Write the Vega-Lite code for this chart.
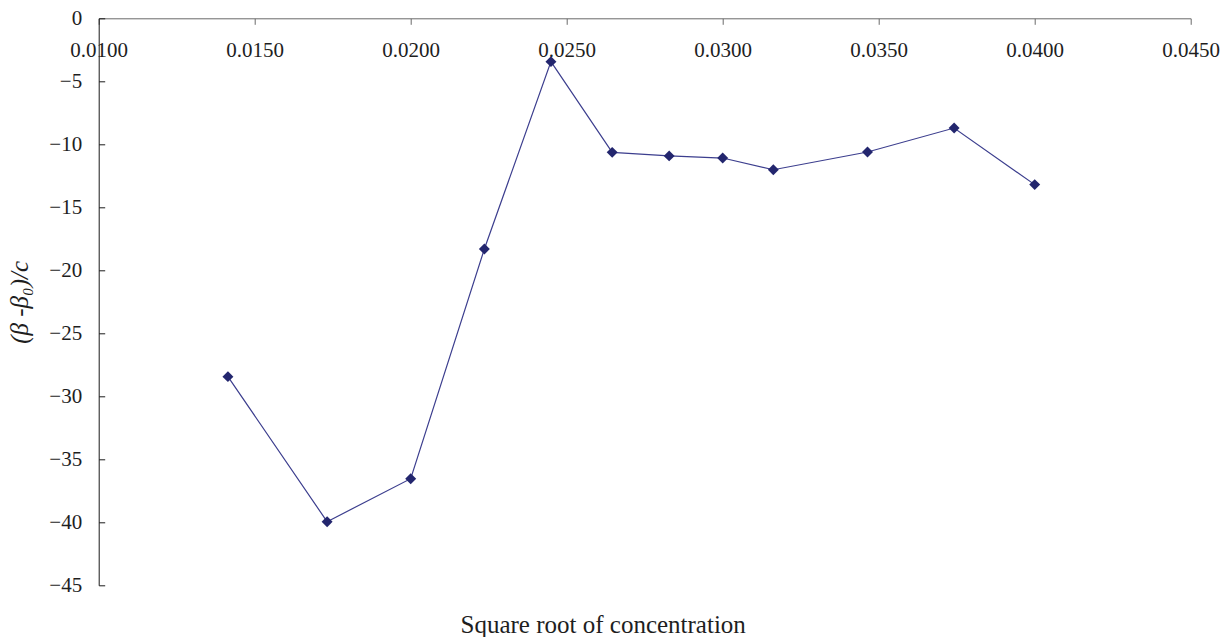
{
  "$schema": "https://vega.github.io/schema/vega-lite/v6.json",
  "autosize": "none",
  "width": 1092,
  "height": 567,
  "padding": {"left": 98.7, "top": 18.3, "right": 34.3, "bottom": 51.7},
  "background": "white",
  "config": {
    "view": {"stroke": null},
    "font": "Liberation Serif",
    "axis": {
      "grid": false,
      "labelFont": "Liberation Serif",
      "titleFont": "Liberation Serif",
      "labelFontSize": 21,
      "labelColor": "#1e1e1e",
      "titleColor": "#1e1e1e",
      "titleFontWeight": "normal",
      "labelOverlap": false,
      "labelFlush": false,
      "labelBound": false
    }
  },
  "data": {
    "values": [
      {"sqrt_c": 0.014142, "value": -28.44},
      {"sqrt_c": 0.017321, "value": -39.95},
      {"sqrt_c": 0.020000, "value": -36.54},
      {"sqrt_c": 0.022361, "value": -18.31},
      {"sqrt_c": 0.024495, "value": -3.44},
      {"sqrt_c": 0.026458, "value": -10.64},
      {"sqrt_c": 0.028284, "value": -10.92},
      {"sqrt_c": 0.030000, "value": -11.09},
      {"sqrt_c": 0.031623, "value": -12.02},
      {"sqrt_c": 0.034641, "value": -10.61},
      {"sqrt_c": 0.037417, "value": -8.71},
      {"sqrt_c": 0.040000, "value": -13.20}
    ]
  },
  "encoding": {
    "x": {
      "field": "sqrt_c",
      "type": "quantitative",
      "scale": {"domain": [0.01, 0.045], "nice": false, "zero": false},
      "axis": {
        "orient": "bottom",
        "offset": -567,
        "values": [0.01, 0.015, 0.02, 0.025, 0.03, 0.035, 0.04, 0.045],
        "format": ".4f",
        "tickSize": 6,
        "tickColor": "#6a6a6a",
        "domainColor": "#6a6a6a",
        "labelBaseline": "alphabetic",
        "labelPadding": 32.4,
        "title": "Square root of concentration",
        "titleFontSize": 25,
        "titleX": 504,
        "titleY": 614,
        "titleAlign": "center",
        "titleAnchor": null,
        "titleBaseline": "alphabetic"
      }
    },
    "y": {
      "field": "value",
      "type": "quantitative",
      "scale": {"domain": [-45, 0], "nice": false, "zero": false},
      "axis": {
        "orient": "left",
        "values": [0, -5, -10, -15, -20, -25, -30, -35, -40, -45],
        "labelExpr": "datum.value < 0 ? '−' + format(-datum.value, 'd') : format(datum.value, 'd')",
        "tickSize": -6,
        "tickColor": "#1a1a1a",
        "domainColor": "#1a1a1a",
        "labelPadding": 23,
        "title": "(β -β₀)/c",
        "titleFontSize": 25,
        "titleFontStyle": "italic",
        "titleAngle": -90,
        "titleX": -79,
        "titleY": 283.5,
        "titleAlign": "center",
        "titleAnchor": null,
        "titleBaseline": "middle"
      }
    }
  },
  "layer": [
    {
      "mark": {"type": "line", "color": "#3c3e8e", "strokeWidth": 1.2}
    },
    {
      "mark": {"type": "point", "shape": "diamond", "filled": true, "size": 120, "color": "#23266e", "opacity": 1}
    }
  ]
}
